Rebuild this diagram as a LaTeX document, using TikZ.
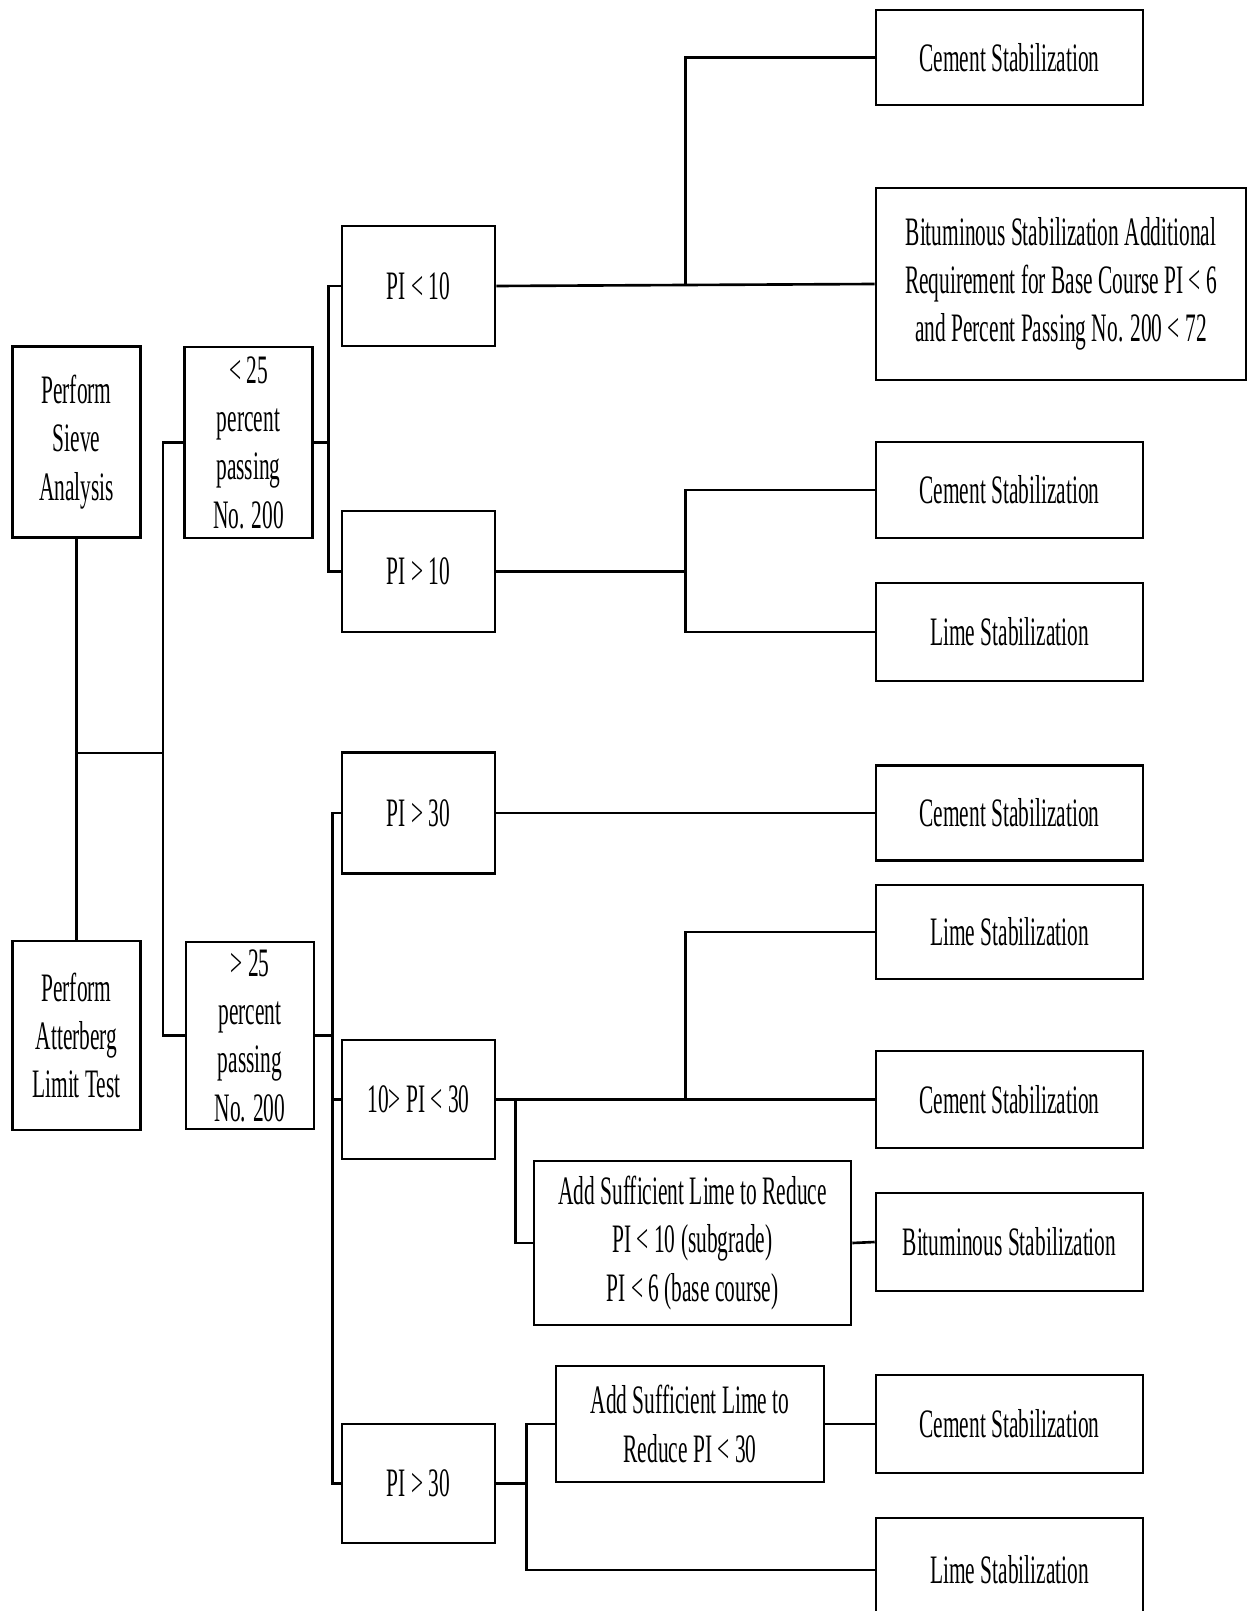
\documentclass[tikz,border=0pt]{standalone}
\usepackage{fontspec}
\setmainfont{Liberation Serif}[FakeStretch=0.53]
\usetikzlibrary{positioning,calc}

\begin{document}
\begin{tikzpicture}[
        x=0.02cm, y=-0.02cm, font=\fontsize{23}{27.5}\selectfont,
        box/.style={draw, line width=1.5pt, align=center, inner sep=0pt,
            minimum width=3.06cm, minimum height=2.4cm},
        test/.style={box, minimum width=2.56cm, minimum height=3.82cm},
        res/.style={box, minimum width=5.34cm, minimum height=1.92cm},
        line/.style={line width=1.5pt}]
        \useasboundingbox (0,0) rectangle (1250,1611);
        \clip (0,0) rectangle (1250,1611);
        % tests and fines content
        \node[test] (sv) at (76.5,442) {Perform\\ Sieve\\ Analysis};
        \node[test, minimum height=3.78cm] (at) at (76.5,1035.5) {Perform\\ Atterberg\\ Limit Test};
        \node[test] (lt) at (248.5,442.5) {< 25\\ percent\\ passing\\ No. 200};
        \node[test, minimum height=3.74cm] (gt) at (250,1035.5) {> 25\\ percent\\ passing\\ No. 200};
        % plasticity index
        \node[box] (pa) at (418.5,286) {PI < 10};
        \node[box, minimum height=2.42cm] (pb) at (418.5,571.5) {PI > 10};
        \node[box, minimum height=2.42cm] (pc) at (418.5,813) {PI > 30};
        \node[box, minimum height=2.38cm] (pd) at (418.5,1099.5) {10> PI < 30};
        \node[box, minimum height=2.38cm] (pe) at (418.5,1483.5) {PI > 30};
        % lime pre-treatment
        \node[box, minimum width=6.34cm, minimum height=3.28cm] (al1) at (692.5,1243)
            {Add Sufficient Lime to Reduce\\ PI < 10 (subgrade)\\ PI < 6 (base course)};
        \node[box, minimum width=5.36cm, minimum height=2.32cm] (al2) at (690,1424)
            {Add Sufficient Lime to\\ Reduce PI < 30};
        % stabilization
        \node[res, minimum height=1.9cm] (cm1) at (1009.5,57.5) {Cement Stabilization};
        \node[box, minimum width=7.4cm, minimum height=3.84cm] (ba) at (1061,284)
            {Bituminous Stabilization Additional\\ Requirement for Base Course PI < 6\\ and Percent Passing No. 200 < 72};
        \node[res] (cm2) at (1009.5,490) {Cement Stabilization};
        \node[res, minimum height=1.96cm] (lm1) at (1009.5,632) {Lime Stabilization};
        \node[res, minimum height=1.9cm] (cm3) at (1009.5,813) {Cement Stabilization};
        \node[res, minimum height=1.88cm] (lm2) at (1009.5,932) {Lime Stabilization};
        \node[res, minimum height=1.94cm] (cm4) at (1009.5,1099.5) {Cement Stabilization};
        \node[res, minimum height=1.96cm] (bt) at (1009.5,1242) {Bituminous Stabilization};
        \node[res, minimum height=1.96cm] (cm5) at (1009.5,1424) {Cement Stabilization};
        \node[res, minimum height=2.08cm] (lm3) at (1009.5,1570) {Lime Stabilization};
        % left part
        \coordinate (jm) at (163,753);
        \draw[line] (sv.south) -- (at.north);
        \draw[line] (sv.south |- jm) -- (jm);
        \draw[line] (lt.west) -| (jm) |- (gt.west);
        \draw[line] (lt.east) -- ++(15,0) coordinate (ja);
        \draw[line] (pa.west) -| (ja) |- (pb.west);
        \draw[line] (gt.east) -- ++(17,0) coordinate (jb);
        \draw[line] (pc.west) -| (jb) |- (pe.west);
        \draw[line] (pd.west) -- (pd.west -| jb);
        % right part
        \draw[line] (pa.east) -- (ba.west) coordinate[pos=0.5] (jc);
        \draw[line] (cm1.west) -| (jc);
        \draw[line] (pb.east) -- (pb.east -| jc);
        \draw[line] (cm2.west) -| (pb.east -| jc) |- (lm1.west);
        \draw[line] (pc.east) -- (cm3.west);
        \draw[line] (pd.east) -- (cm4.west);
        \draw[line] (lm2.west) -| (pd.east -| jc);
        \draw[line] (pd.east) ++(19,0) |- (al1.west);
        \draw[line] (al1.east) -- (bt.west);
        \draw[line] (pe.east) -- ++(30,0) coordinate (je);
        \draw[line] (al2.west) -| (je) |- (lm3.west);
        \draw[line] (al2.east) -- (cm5.west);
    \end{tikzpicture}
\end{document}
